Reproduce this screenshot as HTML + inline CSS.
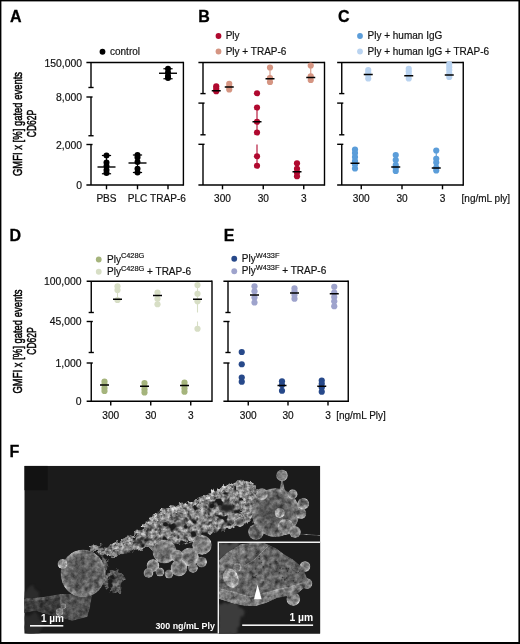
<!DOCTYPE html>
<html lang="en">
<head>
<meta charset="utf-8">
<title>Figure</title>
<style>
html,body{margin:0;padding:0;background:#fff;}
body{width:520px;height:644px;overflow:hidden;position:relative;}
svg{display:block;position:absolute;left:0;top:0;}
svg{will-change:transform;}
svg text{font-family:"Liberation Sans", sans-serif;fill:#111;stroke:#111;stroke-width:0.18px;}
</style>
</head>
<body>
<svg width="520" height="644" viewBox="0 0 520 644">
<rect x="0" y="0" width="520" height="644" fill="#fff"/>
<text x="10.1" y="21.9" font-size="16" font-weight="bold" style="fill:#000;stroke:#000;stroke-width:0.3">A</text>
<text x="198.3" y="21.9" font-size="16" font-weight="bold" style="fill:#000;stroke:#000;stroke-width:0.3">B</text>
<text x="337.9" y="21.9" font-size="16" font-weight="bold" style="fill:#000;stroke:#000;stroke-width:0.3">C</text>
<line x1="86.4" y1="62.5" x2="183.4" y2="62.5" stroke="#000" stroke-width="1.4" />
<line x1="183.4" y1="61.8" x2="183.4" y2="185.7" stroke="#000" stroke-width="1.4" />
<line x1="86.4" y1="185" x2="183.4" y2="185" stroke="#000" stroke-width="1.4" />
<line x1="91" y1="62.5" x2="91" y2="87.5" stroke="#000" stroke-width="1.4" />
<line x1="88.4" y1="87.5" x2="93.6" y2="87.5" stroke="#000" stroke-width="1.4" />
<line x1="91" y1="97" x2="91" y2="135.75" stroke="#000" stroke-width="1.4" />
<line x1="86.4" y1="97" x2="92.56" y2="97" stroke="#000" stroke-width="1.4" />
<line x1="88.4" y1="135.75" x2="93.6" y2="135.75" stroke="#000" stroke-width="1.4" />
<line x1="91" y1="144.5" x2="91" y2="185" stroke="#000" stroke-width="1.4" />
<line x1="86.4" y1="144.5" x2="92.56" y2="144.5" stroke="#000" stroke-width="1.4" />
<text x="82" y="66.7" text-anchor="end" font-size="10.4">150,000</text>
<text x="82" y="101.2" text-anchor="end" font-size="10.4">8,000</text>
<text x="82" y="148.7" text-anchor="end" font-size="10.4">2,000</text>
<text x="82" y="188.7" text-anchor="end" font-size="10.4">0</text>
<text transform="translate(21.5,124) rotate(-90)" text-anchor="middle" font-size="13" style="fill:#000;stroke:#000;stroke-width:0.5" textLength="104" lengthAdjust="spacingAndGlyphs">GMFI x [%] gated events</text>
<text transform="translate(36.0,123.5) rotate(-90)" text-anchor="middle" font-size="13" style="fill:#000;stroke:#000;stroke-width:0.5" textLength="27.5" lengthAdjust="spacingAndGlyphs">CD62P</text>
<line x1="106.5" y1="185" x2="106.5" y2="189.3" stroke="#000" stroke-width="1.4" />
<text x="106.5" y="202.1" text-anchor="middle" font-size="10.1">PBS</text>
<line x1="137.5" y1="185" x2="137.5" y2="189.3" stroke="#000" stroke-width="1.4" />
<text x="137.5" y="202.1" text-anchor="middle" font-size="10.1">PLC</text>
<line x1="168" y1="185" x2="168" y2="189.3" stroke="#000" stroke-width="1.4" />
<text x="168" y="202.1" text-anchor="middle" font-size="10.1">TRAP-6</text>
<circle cx="102.5" cy="51.75" r="2.9" fill="#000"/>
<text x="110" y="55.2" font-size="10">control</text>
<line x1="106.5" y1="155.5" x2="106.5" y2="173.75" stroke="#000" stroke-width="1.1" />
<line x1="101.9" y1="155.5" x2="111.1" y2="155.5" stroke="#000" stroke-width="1.2" />
<line x1="101.9" y1="173.75" x2="111.1" y2="173.75" stroke="#000" stroke-width="1.2" />
<circle cx="106.5" cy="155.5" r="3.0" fill="#000"/>
<circle cx="106.5" cy="162.5" r="3.0" fill="#000"/>
<circle cx="106.5" cy="166" r="3.0" fill="#000"/>
<circle cx="106.5" cy="170" r="3.0" fill="#000"/>
<circle cx="106.5" cy="173" r="3.0" fill="#000"/>
<line x1="97.5" y1="167" x2="115.5" y2="167" stroke="#000" stroke-width="1.4" />
<line x1="137.5" y1="155" x2="137.5" y2="172.5" stroke="#000" stroke-width="1.1" />
<line x1="132.9" y1="155" x2="142.1" y2="155" stroke="#000" stroke-width="1.2" />
<line x1="132.9" y1="172.5" x2="142.1" y2="172.5" stroke="#000" stroke-width="1.2" />
<circle cx="137.5" cy="155" r="3.0" fill="#000"/>
<circle cx="137.5" cy="157.5" r="3.0" fill="#000"/>
<circle cx="137.5" cy="162" r="3.0" fill="#000"/>
<circle cx="137.5" cy="168.75" r="3.0" fill="#000"/>
<circle cx="137.5" cy="172.5" r="3.0" fill="#000"/>
<line x1="128.5" y1="163" x2="146.5" y2="163" stroke="#000" stroke-width="1.4" />
<line x1="168" y1="68.75" x2="168" y2="78.75" stroke="#000" stroke-width="1.1" />
<line x1="163.4" y1="68.75" x2="172.6" y2="68.75" stroke="#000" stroke-width="1.2" />
<line x1="163.4" y1="78.75" x2="172.6" y2="78.75" stroke="#000" stroke-width="1.2" />
<circle cx="168" cy="68.75" r="3.0" fill="#000"/>
<circle cx="168" cy="72.5" r="3.0" fill="#000"/>
<circle cx="168" cy="76" r="3.0" fill="#000"/>
<circle cx="168" cy="78" r="3.0" fill="#000"/>
<line x1="159" y1="73.25" x2="177" y2="73.25" stroke="#000" stroke-width="1.4" />
<line x1="198.4" y1="62.5" x2="324.5" y2="62.5" stroke="#000" stroke-width="1.4" />
<line x1="324.5" y1="61.8" x2="324.5" y2="185.7" stroke="#000" stroke-width="1.4" />
<line x1="198.4" y1="185" x2="324.5" y2="185" stroke="#000" stroke-width="1.4" />
<line x1="203" y1="62.5" x2="203" y2="93.6" stroke="#000" stroke-width="1.4" />
<line x1="200.4" y1="93.6" x2="205.6" y2="93.6" stroke="#000" stroke-width="1.4" />
<line x1="203" y1="103.1" x2="203" y2="134.8" stroke="#000" stroke-width="1.4" />
<line x1="198.4" y1="103.1" x2="204.56" y2="103.1" stroke="#000" stroke-width="1.4" />
<line x1="200.4" y1="134.8" x2="205.6" y2="134.8" stroke="#000" stroke-width="1.4" />
<line x1="203" y1="144.3" x2="203" y2="185" stroke="#000" stroke-width="1.4" />
<line x1="198.4" y1="144.3" x2="204.56" y2="144.3" stroke="#000" stroke-width="1.4" />
<line x1="222.5" y1="185" x2="222.5" y2="189.3" stroke="#000" stroke-width="1.4" />
<text x="222.5" y="202.1" text-anchor="middle" font-size="10.1">300</text>
<line x1="263.25" y1="185" x2="263.25" y2="189.3" stroke="#000" stroke-width="1.4" />
<text x="263.25" y="202.1" text-anchor="middle" font-size="10.1">30</text>
<line x1="303.75" y1="185" x2="303.75" y2="189.3" stroke="#000" stroke-width="1.4" />
<text x="303.75" y="202.1" text-anchor="middle" font-size="10.1">3</text>
<circle cx="218.5" cy="36" r="2.9" fill="#b0092f"/>
<text x="225.7" y="38.9" font-size="10">Ply</text>
<circle cx="218.5" cy="51.5" r="2.9" fill="#d59582"/>
<text x="225.7" y="54.6" font-size="10">Ply + TRAP-6</text>
<circle cx="216.25" cy="86.25" r="3.1" fill="#b0092f"/>
<circle cx="216.25" cy="88.75" r="3.1" fill="#b0092f"/>
<circle cx="216.25" cy="91.25" r="3.1" fill="#b0092f"/>
<line x1="211.75" y1="90.75" x2="220.75" y2="90.75" stroke="#000" stroke-width="1.5" />
<circle cx="229.25" cy="83.75" r="3.1" fill="#d59582"/>
<circle cx="229.25" cy="86.75" r="3.1" fill="#d59582"/>
<circle cx="229.25" cy="89.5" r="3.1" fill="#d59582"/>
<line x1="224.75" y1="87" x2="233.75" y2="87" stroke="#000" stroke-width="1.5" />
<line x1="257" y1="107.5" x2="257" y2="132.5" stroke="#b0092f" stroke-width="1.1" />
<line x1="257" y1="144.5" x2="257" y2="165.75" stroke="#b0092f" stroke-width="1.1" />
<circle cx="257" cy="93.25" r="3.1" fill="#b0092f"/>
<circle cx="257" cy="107.5" r="3.1" fill="#b0092f"/>
<circle cx="257" cy="121.75" r="3.1" fill="#b0092f"/>
<circle cx="257" cy="132.5" r="3.1" fill="#b0092f"/>
<circle cx="257" cy="156.25" r="3.1" fill="#b0092f"/>
<circle cx="257" cy="165.75" r="3.1" fill="#b0092f"/>
<line x1="252.5" y1="121.75" x2="261.5" y2="121.75" stroke="#000" stroke-width="1.5" />
<line x1="270" y1="67.5" x2="270" y2="82" stroke="#d59582" stroke-width="1.1" />
<circle cx="270" cy="67.5" r="3.1" fill="#d59582"/>
<circle cx="270" cy="78" r="3.1" fill="#d59582"/>
<circle cx="270" cy="82" r="3.1" fill="#d59582"/>
<line x1="265.5" y1="78.75" x2="274.5" y2="78.75" stroke="#000" stroke-width="1.5" />
<circle cx="297" cy="163.25" r="3.1" fill="#b0092f"/>
<circle cx="297" cy="168.75" r="3.1" fill="#b0092f"/>
<circle cx="297" cy="172.5" r="3.1" fill="#b0092f"/>
<circle cx="297" cy="176.25" r="3.1" fill="#b0092f"/>
<line x1="292.5" y1="171.75" x2="301.5" y2="171.75" stroke="#000" stroke-width="1.5" />
<line x1="310.75" y1="65.5" x2="310.75" y2="80" stroke="#d59582" stroke-width="1.1" />
<circle cx="310.75" cy="65.5" r="3.1" fill="#d59582"/>
<circle cx="310.75" cy="76.25" r="3.1" fill="#d59582"/>
<circle cx="310.75" cy="80" r="3.1" fill="#d59582"/>
<line x1="306.25" y1="77.5" x2="315.25" y2="77.5" stroke="#000" stroke-width="1.5" />
<line x1="337.15" y1="62.5" x2="463.25" y2="62.5" stroke="#000" stroke-width="1.4" />
<line x1="463.25" y1="61.8" x2="463.25" y2="185.7" stroke="#000" stroke-width="1.4" />
<line x1="337.15" y1="185" x2="463.25" y2="185" stroke="#000" stroke-width="1.4" />
<line x1="341.75" y1="62.5" x2="341.75" y2="93.6" stroke="#000" stroke-width="1.4" />
<line x1="339.15" y1="93.6" x2="344.35" y2="93.6" stroke="#000" stroke-width="1.4" />
<line x1="341.75" y1="103.1" x2="341.75" y2="134.8" stroke="#000" stroke-width="1.4" />
<line x1="337.15" y1="103.1" x2="343.31" y2="103.1" stroke="#000" stroke-width="1.4" />
<line x1="339.15" y1="134.8" x2="344.35" y2="134.8" stroke="#000" stroke-width="1.4" />
<line x1="341.75" y1="144.3" x2="341.75" y2="185" stroke="#000" stroke-width="1.4" />
<line x1="337.15" y1="144.3" x2="343.31" y2="144.3" stroke="#000" stroke-width="1.4" />
<line x1="361.25" y1="185" x2="361.25" y2="189.3" stroke="#000" stroke-width="1.4" />
<text x="361.25" y="202.1" text-anchor="middle" font-size="10.1">300</text>
<line x1="402" y1="185" x2="402" y2="189.3" stroke="#000" stroke-width="1.4" />
<text x="402" y="202.1" text-anchor="middle" font-size="10.1">30</text>
<line x1="442.5" y1="185" x2="442.5" y2="189.3" stroke="#000" stroke-width="1.4" />
<text x="442.5" y="202.1" text-anchor="middle" font-size="10.1">3</text>
<text x="461.6" y="202.0" font-size="10">[ng/mL ply]</text>
<circle cx="360" cy="36" r="2.9" fill="#5b9dd9"/>
<text x="367.5" y="38.9" font-size="10">Ply + human IgG</text>
<circle cx="360" cy="51.5" r="2.9" fill="#b9d3f0"/>
<text x="367.5" y="54.6" font-size="10">Ply + human IgG + TRAP-6</text>
<circle cx="355" cy="149.5" r="3.1" fill="#5b9dd9"/>
<circle cx="355" cy="153" r="3.1" fill="#5b9dd9"/>
<circle cx="355" cy="157" r="3.1" fill="#5b9dd9"/>
<circle cx="355" cy="161" r="3.1" fill="#5b9dd9"/>
<circle cx="355" cy="164.5" r="3.1" fill="#5b9dd9"/>
<circle cx="355" cy="168.5" r="3.1" fill="#5b9dd9"/>
<line x1="350.5" y1="163.25" x2="359.5" y2="163.25" stroke="#000" stroke-width="1.5" />
<circle cx="368.25" cy="70" r="3.1" fill="#b9d3f0"/>
<circle cx="368.25" cy="72.5" r="3.1" fill="#b9d3f0"/>
<circle cx="368.25" cy="75" r="3.1" fill="#b9d3f0"/>
<circle cx="368.25" cy="78.5" r="3.1" fill="#b9d3f0"/>
<line x1="363.75" y1="74.5" x2="372.75" y2="74.5" stroke="#000" stroke-width="1.5" />
<circle cx="395.75" cy="155" r="3.1" fill="#5b9dd9"/>
<circle cx="395.75" cy="160" r="3.1" fill="#5b9dd9"/>
<circle cx="395.75" cy="165" r="3.1" fill="#5b9dd9"/>
<circle cx="395.75" cy="168" r="3.1" fill="#5b9dd9"/>
<circle cx="395.75" cy="171" r="3.1" fill="#5b9dd9"/>
<line x1="391.25" y1="167" x2="400.25" y2="167" stroke="#000" stroke-width="1.5" />
<circle cx="408.75" cy="68.75" r="3.1" fill="#b9d3f0"/>
<circle cx="408.75" cy="71.5" r="3.1" fill="#b9d3f0"/>
<circle cx="408.75" cy="74.5" r="3.1" fill="#b9d3f0"/>
<circle cx="408.75" cy="78.5" r="3.1" fill="#b9d3f0"/>
<line x1="404.25" y1="75.75" x2="413.25" y2="75.75" stroke="#000" stroke-width="1.5" />
<line x1="436.25" y1="150.5" x2="436.25" y2="170" stroke="#5b9dd9" stroke-width="1.1" />
<circle cx="436.25" cy="150.5" r="3.1" fill="#5b9dd9"/>
<circle cx="436.25" cy="158.75" r="3.1" fill="#5b9dd9"/>
<circle cx="436.25" cy="162.5" r="3.1" fill="#5b9dd9"/>
<circle cx="436.25" cy="167.5" r="3.1" fill="#5b9dd9"/>
<circle cx="436.25" cy="170.5" r="3.1" fill="#5b9dd9"/>
<line x1="431.75" y1="168" x2="440.75" y2="168" stroke="#000" stroke-width="1.5" />
<circle cx="449.25" cy="64" r="3.1" fill="#b9d3f0"/>
<circle cx="449.25" cy="67" r="3.1" fill="#b9d3f0"/>
<circle cx="449.25" cy="70" r="3.1" fill="#b9d3f0"/>
<circle cx="449.25" cy="73.5" r="3.1" fill="#b9d3f0"/>
<circle cx="449.25" cy="77" r="3.1" fill="#b9d3f0"/>
<line x1="444.75" y1="75" x2="453.75" y2="75" stroke="#000" stroke-width="1.5" />
<text x="9.6" y="240.7" font-size="16" font-weight="bold" style="fill:#000;stroke:#000;stroke-width:0.3">D</text>
<text x="223.8" y="240.7" font-size="16" font-weight="bold" style="fill:#000;stroke:#000;stroke-width:0.3">E</text>
<line x1="86.65" y1="281.25" x2="212" y2="281.25" stroke="#000" stroke-width="1.4" />
<line x1="212" y1="280.55" x2="212" y2="401.95" stroke="#000" stroke-width="1.4" />
<line x1="86.65" y1="401.25" x2="212" y2="401.25" stroke="#000" stroke-width="1.4" />
<line x1="91.25" y1="281.25" x2="91.25" y2="312.5" stroke="#000" stroke-width="1.4" />
<line x1="88.65" y1="312.5" x2="93.85" y2="312.5" stroke="#000" stroke-width="1.4" />
<line x1="91.25" y1="321.5" x2="91.25" y2="352.5" stroke="#000" stroke-width="1.4" />
<line x1="86.65" y1="321.5" x2="92.81" y2="321.5" stroke="#000" stroke-width="1.4" />
<line x1="88.65" y1="352.5" x2="93.85" y2="352.5" stroke="#000" stroke-width="1.4" />
<line x1="91.25" y1="363" x2="91.25" y2="401.25" stroke="#000" stroke-width="1.4" />
<line x1="86.65" y1="363" x2="92.81" y2="363" stroke="#000" stroke-width="1.4" />
<text x="81.5" y="284.95" text-anchor="end" font-size="10.4">100,000</text>
<text x="81.5" y="325.45" text-anchor="end" font-size="10.4">45,000</text>
<text x="81.5" y="367.2" text-anchor="end" font-size="10.4">1,000</text>
<text x="81.5" y="404.95" text-anchor="end" font-size="10.4">0</text>
<text transform="translate(21.5,341.5) rotate(-90)" text-anchor="middle" font-size="13" style="fill:#000;stroke:#000;stroke-width:0.5" textLength="104" lengthAdjust="spacingAndGlyphs">GMFI x [%] gated events</text>
<text transform="translate(36.0,341) rotate(-90)" text-anchor="middle" font-size="13" style="fill:#000;stroke:#000;stroke-width:0.5" textLength="27.5" lengthAdjust="spacingAndGlyphs">CD62P</text>
<line x1="110.75" y1="401.25" x2="110.75" y2="405.55" stroke="#000" stroke-width="1.4" />
<text x="110.75" y="419.15" text-anchor="middle" font-size="10.1">300</text>
<line x1="150.75" y1="401.25" x2="150.75" y2="405.55" stroke="#000" stroke-width="1.4" />
<text x="150.75" y="419.15" text-anchor="middle" font-size="10.1">30</text>
<line x1="190.75" y1="401.25" x2="190.75" y2="405.55" stroke="#000" stroke-width="1.4" />
<text x="190.75" y="419.15" text-anchor="middle" font-size="10.1">3</text>
<circle cx="98.75" cy="259.5" r="2.9" fill="#a5b47c"/>
<text x="107" y="262.6" font-size="10">Ply<tspan dy="-4.2" font-size="7.4">C428G</tspan></text>
<circle cx="98.75" cy="271.75" r="2.9" fill="#d7dec5"/>
<text x="107" y="275" font-size="10">Ply<tspan dy="-4.2" font-size="7.4">C428G</tspan><tspan dy="4.2" font-size="10"> + TRAP-6</tspan></text>
<circle cx="104.5" cy="381.5" r="3.1" fill="#a5b47c"/>
<circle cx="104.5" cy="384.5" r="3.1" fill="#a5b47c"/>
<circle cx="104.5" cy="388" r="3.1" fill="#a5b47c"/>
<circle cx="104.5" cy="391" r="3.1" fill="#a5b47c"/>
<line x1="100.0" y1="385" x2="109.0" y2="385" stroke="#000" stroke-width="1.5" />
<line x1="117.5" y1="286" x2="117.5" y2="300" stroke="#d7dec5" stroke-width="1.1" />
<circle cx="117.5" cy="286.25" r="3.1" fill="#d7dec5"/>
<circle cx="117.5" cy="290" r="3.1" fill="#d7dec5"/>
<circle cx="117.5" cy="300" r="3.1" fill="#d7dec5"/>
<line x1="113.0" y1="299.25" x2="122.0" y2="299.25" stroke="#000" stroke-width="1.5" />
<circle cx="144.5" cy="383" r="3.1" fill="#a5b47c"/>
<circle cx="144.5" cy="386.5" r="3.1" fill="#a5b47c"/>
<circle cx="144.5" cy="389.5" r="3.1" fill="#a5b47c"/>
<circle cx="144.5" cy="392.5" r="3.1" fill="#a5b47c"/>
<line x1="140.0" y1="386.25" x2="149.0" y2="386.25" stroke="#000" stroke-width="1.5" />
<line x1="157.5" y1="292.5" x2="157.5" y2="304" stroke="#d7dec5" stroke-width="1.1" />
<circle cx="157.5" cy="292.5" r="3.1" fill="#d7dec5"/>
<circle cx="157.5" cy="298.75" r="3.1" fill="#d7dec5"/>
<circle cx="157.5" cy="304.25" r="3.1" fill="#d7dec5"/>
<line x1="153.0" y1="295.5" x2="162.0" y2="295.5" stroke="#000" stroke-width="1.5" />
<circle cx="184.5" cy="382.5" r="3.1" fill="#a5b47c"/>
<circle cx="184.5" cy="385.5" r="3.1" fill="#a5b47c"/>
<circle cx="184.5" cy="388.5" r="3.1" fill="#a5b47c"/>
<circle cx="184.5" cy="391.75" r="3.1" fill="#a5b47c"/>
<line x1="180.0" y1="385.5" x2="189.0" y2="385.5" stroke="#000" stroke-width="1.5" />
<line x1="197.5" y1="285" x2="197.5" y2="312.5" stroke="#d7dec5" stroke-width="1.1" />
<line x1="197.5" y1="321.5" x2="197.5" y2="328.75" stroke="#d7dec5" stroke-width="1.1" />
<circle cx="197.5" cy="285" r="3.1" fill="#d7dec5"/>
<circle cx="197.5" cy="293.75" r="3.1" fill="#d7dec5"/>
<circle cx="197.5" cy="301.25" r="3.1" fill="#d7dec5"/>
<circle cx="197.5" cy="328.75" r="3.1" fill="#d7dec5"/>
<line x1="193.0" y1="299.25" x2="202.0" y2="299.25" stroke="#000" stroke-width="1.5" />
<line x1="223.4" y1="281.25" x2="348.25" y2="281.25" stroke="#000" stroke-width="1.4" />
<line x1="348.25" y1="280.55" x2="348.25" y2="401.95" stroke="#000" stroke-width="1.4" />
<line x1="223.4" y1="401.25" x2="348.25" y2="401.25" stroke="#000" stroke-width="1.4" />
<line x1="228" y1="281.25" x2="228" y2="312.5" stroke="#000" stroke-width="1.4" />
<line x1="225.4" y1="312.5" x2="230.6" y2="312.5" stroke="#000" stroke-width="1.4" />
<line x1="228" y1="321.5" x2="228" y2="352.5" stroke="#000" stroke-width="1.4" />
<line x1="223.4" y1="321.5" x2="229.56" y2="321.5" stroke="#000" stroke-width="1.4" />
<line x1="225.4" y1="352.5" x2="230.6" y2="352.5" stroke="#000" stroke-width="1.4" />
<line x1="228" y1="363" x2="228" y2="401.25" stroke="#000" stroke-width="1.4" />
<line x1="223.4" y1="363" x2="229.56" y2="363" stroke="#000" stroke-width="1.4" />
<line x1="248.25" y1="401.25" x2="248.25" y2="405.55" stroke="#000" stroke-width="1.4" />
<text x="248.25" y="419.15" text-anchor="middle" font-size="10.1">300</text>
<line x1="288" y1="401.25" x2="288" y2="405.55" stroke="#000" stroke-width="1.4" />
<text x="288" y="419.15" text-anchor="middle" font-size="10.1">30</text>
<line x1="328" y1="401.25" x2="328" y2="405.55" stroke="#000" stroke-width="1.4" />
<text x="328" y="419.15" text-anchor="middle" font-size="10.1">3</text>
<text x="336.2" y="419.15" font-size="10">[ng/mL Ply]</text>
<circle cx="234.25" cy="258.75" r="2.9" fill="#27498a"/>
<text x="241.75" y="261.9" font-size="10">Ply<tspan dy="-4.2" font-size="7.4">W433F</tspan></text>
<circle cx="234.25" cy="271.25" r="2.9" fill="#9ea3cc"/>
<text x="241.75" y="274.4" font-size="10">Ply<tspan dy="-4.2" font-size="7.4">W433F</tspan><tspan dy="4.2" font-size="10"> + TRAP-6</tspan></text>
<circle cx="241.75" cy="352" r="3.1" fill="#27498a"/>
<circle cx="241.75" cy="364.25" r="3.1" fill="#27498a"/>
<circle cx="241.75" cy="377.5" r="3.1" fill="#27498a"/>
<circle cx="241.75" cy="381.75" r="3.1" fill="#27498a"/>
<circle cx="254.5" cy="286.25" r="3.1" fill="#9ea3cc"/>
<circle cx="254.5" cy="291.25" r="3.1" fill="#9ea3cc"/>
<circle cx="254.5" cy="297.5" r="3.1" fill="#9ea3cc"/>
<circle cx="254.5" cy="302.5" r="3.1" fill="#9ea3cc"/>
<line x1="250.0" y1="295" x2="259.0" y2="295" stroke="#000" stroke-width="1.5" />
<circle cx="282" cy="381.25" r="3.1" fill="#27498a"/>
<circle cx="282" cy="385" r="3.1" fill="#27498a"/>
<circle cx="282" cy="390.75" r="3.1" fill="#27498a"/>
<line x1="277.5" y1="385.5" x2="286.5" y2="385.5" stroke="#000" stroke-width="1.5" />
<circle cx="294.5" cy="288.25" r="3.1" fill="#9ea3cc"/>
<circle cx="294.5" cy="291.25" r="3.1" fill="#9ea3cc"/>
<circle cx="294.5" cy="295" r="3.1" fill="#9ea3cc"/>
<circle cx="294.5" cy="298.75" r="3.1" fill="#9ea3cc"/>
<line x1="290.0" y1="293" x2="299.0" y2="293" stroke="#000" stroke-width="1.5" />
<circle cx="321.75" cy="380.5" r="3.1" fill="#27498a"/>
<circle cx="321.75" cy="383.75" r="3.1" fill="#27498a"/>
<circle cx="321.75" cy="387.5" r="3.1" fill="#27498a"/>
<circle cx="321.75" cy="391.75" r="3.1" fill="#27498a"/>
<line x1="317.25" y1="386.25" x2="326.25" y2="386.25" stroke="#000" stroke-width="1.5" />
<circle cx="334.25" cy="286.75" r="3.1" fill="#9ea3cc"/>
<circle cx="334.25" cy="292.5" r="3.1" fill="#9ea3cc"/>
<circle cx="334.25" cy="297" r="3.1" fill="#9ea3cc"/>
<circle cx="334.25" cy="301.25" r="3.1" fill="#9ea3cc"/>
<circle cx="334.25" cy="306.25" r="3.1" fill="#9ea3cc"/>
<line x1="329.75" y1="293.75" x2="338.75" y2="293.75" stroke="#000" stroke-width="1.5" />
<text x="9.6" y="456.9" font-size="16" font-weight="bold" style="fill:#000;stroke:#000;stroke-width:0.3">F</text>
<defs>
<clipPath id="semclip"><rect x="24.3" y="465.8" width="296.0" height="167.9"/></clipPath>
<clipPath id="insclip"><rect x="218.8" y="542.7" width="101.5" height="91.0"/></clipPath>
<radialGradient id="sph" cx="0.46" cy="0.48" r="0.56">
<stop offset="0" stop-color="#6c6c6c"/><stop offset="0.6" stop-color="#7a7a7a"/><stop offset="0.88" stop-color="#a2a2a2"/><stop offset="1" stop-color="#8a8a8a"/>
</radialGradient>
<radialGradient id="sphd" cx="0.5" cy="0.5" r="0.55">
<stop offset="0" stop-color="#565656"/><stop offset="0.65" stop-color="#626262"/><stop offset="0.9" stop-color="#868686"/><stop offset="1" stop-color="#6a6a6a"/>
</radialGradient>
<radialGradient id="sphb" cx="0.45" cy="0.45" r="0.56">
<stop offset="0" stop-color="#868686"/><stop offset="0.6" stop-color="#949494"/><stop offset="0.9" stop-color="#bdbdbd"/><stop offset="1" stop-color="#9a9a9a"/>
</radialGradient>
<filter id="rough" x="-10%" y="-10%" width="120%" height="120%" color-interpolation-filters="sRGB">
<feTurbulence type="fractalNoise" baseFrequency="0.16" numOctaves="3" seed="4" result="n"/>
<feDisplacementMap in="SourceGraphic" in2="n" scale="9" xChannelSelector="R" yChannelSelector="G" result="d"/>
<feTurbulence type="fractalNoise" baseFrequency="0.24" numOctaves="3" seed="9" result="n2"/>
<feColorMatrix in="n2" type="matrix" values="1.9 0 0 0 -0.45  1.9 0 0 0 -0.45  1.9 0 0 0 -0.45  0 0 0 0 1" result="g"/>
<feComposite in="d" in2="g" operator="arithmetic" k1="1.0" k2="0.5" k3="0" k4="0" result="t"/>
<feComposite in="t" in2="d" operator="in" result="u"/>
<feTurbulence type="fractalNoise" baseFrequency="0.13" numOctaves="2" seed="21" result="n3"/>
<feColorMatrix in="n3" type="matrix" values="0 0 0 0 1  0 0 0 0 1  0 0 0 0 1  7 0 0 0 -2.15" result="m"/>
<feComposite in="u" in2="m" operator="in" result="w"/>
<feGaussianBlur in="w" stdDeviation="0.7"/>
</filter>
<filter id="rough2" x="-10%" y="-20%" width="120%" height="140%" color-interpolation-filters="sRGB">
<feTurbulence type="fractalNoise" baseFrequency="0.2" numOctaves="3" seed="11" result="n"/>
<feDisplacementMap in="SourceGraphic" in2="n" scale="7" xChannelSelector="R" yChannelSelector="G" result="d"/>
<feTurbulence type="fractalNoise" baseFrequency="0.28" numOctaves="3" seed="5" result="n2"/>
<feColorMatrix in="n2" type="matrix" values="1.8 0 0 0 -0.4  1.8 0 0 0 -0.4  1.8 0 0 0 -0.4  0 0 0 0 1" result="g"/>
<feComposite in="d" in2="g" operator="arithmetic" k1="1.0" k2="0.5" k3="0" k4="0" result="t"/>
<feComposite in="t" in2="d" operator="in" result="u"/>
<feGaussianBlur in="u" stdDeviation="0.7"/>
</filter>
<filter id="soft" x="-10%" y="-10%" width="120%" height="120%" color-interpolation-filters="sRGB">
<feTurbulence type="fractalNoise" baseFrequency="0.2" numOctaves="3" seed="2" result="n2"/>
<feColorMatrix in="n2" type="matrix" values="1.5 0 0 0 -0.25  1.5 0 0 0 -0.25  1.5 0 0 0 -0.25  0 0 0 0 1" result="g"/>
<feComposite in="SourceGraphic" in2="g" operator="arithmetic" k1="0.9" k2="0.55" k3="0" k4="0" result="t"/>
<feComposite in="t" in2="SourceGraphic" operator="in" result="u"/>
<feGaussianBlur in="u" stdDeviation="0.7"/>
</filter>
<filter id="dim" x="-20%" y="-20%" width="140%" height="140%" color-interpolation-filters="sRGB">
<feTurbulence type="fractalNoise" baseFrequency="0.18" numOctaves="2" seed="7" result="n"/>
<feDisplacementMap in="SourceGraphic" in2="n" scale="8" xChannelSelector="R" yChannelSelector="G" result="d"/>
<feGaussianBlur in="d" stdDeviation="1.2"/>
</filter>
</defs>
<g clip-path="url(#semclip)">
<rect x="24.3" y="465.8" width="296.0" height="167.9" fill="#1b1b1b"/>
<rect x="24.3" y="465.8" width="23.3" height="24.4" fill="#121212"/>
<g filter="url(#dim)" opacity="0.95">
<path d="M24 590 L34 586 L40 596 L30 604 L24 604 Z" fill="#2e2e2e"/>
<path d="M24 616 L36 613 L42 622 L40 634 L24 634 Z" fill="#2c2c2c"/>
</g>
<g filter="url(#soft)">
<path d="M24 598.5 L43 597 L60.5 594 L66 596 L64 612 L58.6 617.5 L49 615 L35.5 611 L24 613 Z" fill="#3c3c3c"/>
<path d="M60 594 L70 594 L92 596 L90 608 L87.5 617 L72 621 L62 618 L60 606 Z" fill="#525252"/>
<path d="M24 598.5 L43 597 L60.5 594 L62 597 L44 600 L24 601.5 Z" fill="#565656"/>
</g>
<g filter="url(#rough)">
<path d="M98 551 L112 544 L120 541 L130 535 L141 527 L152 517 L161 510 L174 507 L192 502 L204 497 L214 491 L226 485 L238 481 L246 482 L254 487 L262 491 L262 520 L250 521 L240 526 L224 531 L210 535 L200 541 L182 545 L168 546 L156 548 L146 548 L136 550 L126 553 L112 557 L100 559 Z" fill="#878787"/>
<path d="M100 550 L105 549 L108 560 L107 574 L110 584 L105 588 L102 576 Z" fill="#5c5c5c"/>
<path d="M108 574 L116 569 L123 572 L124 581 L121 590 L115 595 L111 590 Z" fill="#585858"/>
<path d="M88 547 L100 545 L118 546 L118 550 L100 551 L90 551 Z" fill="#808080"/>
</g>
<g filter="url(#rough2)">
<path d="M143 528 L153 520 L162 512 L176 508 L192 504 L204 499 L215 493 L227 487 L239 483 L248 484 L256 489" fill="none" stroke="#9a9a9a" stroke-width="5.5" stroke-linejoin="round"/>
<path d="M236 484 L250 484 L260 490 L262 500 L256 512 L248 518 L240 514 L244 502 L238 494 Z" fill="#858585"/>
<path d="M100 554 L114 548 L128 541 L141 531" fill="none" stroke="#8c8c8c" stroke-width="4" stroke-linejoin="round"/>
</g>
<g filter="url(#dim)"><ellipse cx="226" cy="508" rx="7" ry="4.5" fill="#242424"/><ellipse cx="140" cy="541" rx="8" ry="2" fill="#2a2a2a" transform="rotate(-28 140 541)"/><ellipse cx="181" cy="523" rx="6" ry="2" fill="#4a4a4a" transform="rotate(-20 181 523)"/></g>
<g filter="url(#soft)">
<ellipse cx="83" cy="573.5" rx="22.5" ry="24" fill="url(#sphd)"/>
<ellipse cx="62.5" cy="564" rx="5" ry="5" fill="url(#sphb)"/>
<ellipse cx="63.4" cy="606.3" rx="3" ry="3" fill="url(#sph)"/>
<ellipse cx="59.6" cy="612" rx="4" ry="4" fill="url(#sph)"/>
</g>
<g filter="url(#soft)">
<ellipse cx="153" cy="565.5" rx="6.5" ry="6.5" fill="url(#sph)"/>
<ellipse cx="148.5" cy="573" rx="5" ry="5" fill="url(#sph)"/>
<ellipse cx="160" cy="572" rx="4.5" ry="4.5" fill="url(#sph)"/>
<ellipse cx="189.5" cy="557" rx="9.5" ry="9.5" fill="url(#sph)"/>
<ellipse cx="202" cy="545" rx="10" ry="10" fill="url(#sph)"/>
<ellipse cx="164.5" cy="551.5" rx="12" ry="12" fill="url(#sph)"/>
<ellipse cx="179" cy="568" rx="8.5" ry="8.5" fill="url(#sph)"/>
<ellipse cx="201.6" cy="562" rx="5.5" ry="5.5" fill="url(#sph)"/>
<ellipse cx="177" cy="556" rx="6.5" ry="6.5" fill="url(#sph)"/>
<ellipse cx="169" cy="574" rx="4.5" ry="4.5" fill="url(#sph)"/>
<ellipse cx="193" cy="568" rx="5" ry="5" fill="url(#sph)"/>
</g>
<g filter="url(#soft)">
<path d="M282 476 L285 490 L279 492 Z" fill="#777"/>
<ellipse cx="256" cy="532" rx="8" ry="8" fill="url(#sphd)"/>
<ellipse cx="275.5" cy="512.5" rx="24" ry="24.5" fill="url(#sphd)"/>
<ellipse cx="268" cy="512" rx="9" ry="7" fill="#505050" opacity="0.7"/>
<ellipse cx="282" cy="475.6" rx="6" ry="6" fill="url(#sph)"/>
<ellipse cx="303.3" cy="503.7" rx="6" ry="6" fill="url(#sph)"/>
<ellipse cx="301" cy="513.5" rx="5.5" ry="5.5" fill="url(#sph)"/>
<ellipse cx="279.8" cy="513" rx="5" ry="5" fill="url(#sphb)"/>
<ellipse cx="285.7" cy="527" rx="8" ry="8" fill="url(#sph)"/>
<ellipse cx="295" cy="532" rx="6" ry="6" fill="url(#sph)"/>
<ellipse cx="292.7" cy="494.3" rx="5" ry="5" fill="url(#sph)"/>
<ellipse cx="262" cy="494" rx="6" ry="6" fill="url(#sph)"/>
<ellipse cx="240" cy="522" rx="5" ry="5" fill="url(#sph)"/>
<path d="M300 534 L320 535.5" stroke="#777" stroke-width="1.2" fill="none"/>
</g>
<rect x="217.8" y="541.7" width="102.5" height="92.0" fill="#1c1c1c"/>
<g clip-path="url(#insclip)">
<g filter="url(#dim)"><path d="M218 604 L236 604 L246 612 L240 622 L236 634 L218 634 Z" fill="#3c3c3c"/><path d="M218 543 L240 543 L230 556 L218 560 Z" fill="#4a4a4a"/></g>
<g filter="url(#soft)">
<ellipse cx="305" cy="566.5" rx="5.5" ry="5.5" fill="url(#sph)"/>
<ellipse cx="307" cy="583.5" rx="5.5" ry="5.5" fill="url(#sph)"/>
<ellipse cx="293.3" cy="599" rx="7" ry="7" fill="url(#sph)"/>
<path d="M219 560 L228 552 L241 544 L252 543 L265 543 L276 548 L284 554 L294 560 L303 568 L308 580 L304 588 L298 593 L288 596 L277 598 L266 603 L256 606 L244 606 L235 604 L226 601 L219 599 Z" fill="#646464"/>
<path d="M219 560 L228 552 L241 544 L252 543 L250 556 L240 566 L232 566 L224 572 L219 575 Z" fill="#727272"/>
<path d="M256 606 L266 603 L277 598 L288 596 L298 593 L304 588 L300 584 L284 588 L270 592 L258 596 L246 596 L236 592 L224 590 L219 592 L219 599 L235 604 Z" fill="#7a7a7a"/>
<path d="M221 589 L236 593 L250 597 L262 594 L276 590 L290 587 L302 583" fill="none" stroke="#9a9a9a" stroke-width="1.2" opacity="0.8"/><path d="M244 566 L254 560 L262 552 L268 546" fill="none" stroke="#8e8e8e" stroke-width="1" opacity="0.8"/>
<g opacity="0.85"><circle cx="263.4" cy="567.0" r="0.68" fill="#2e2e2e"/><circle cx="281.0" cy="569.6" r="0.53" fill="#2e2e2e"/><circle cx="252.6" cy="576.6" r="0.63" fill="#2e2e2e"/><circle cx="263.2" cy="581.9" r="0.74" fill="#2e2e2e"/><circle cx="292.2" cy="569.9" r="0.58" fill="#2e2e2e"/><circle cx="282.5" cy="577.6" r="0.76" fill="#2e2e2e"/><circle cx="287.6" cy="571.2" r="0.53" fill="#2e2e2e"/><circle cx="288.4" cy="568.5" r="0.65" fill="#2e2e2e"/><circle cx="253.5" cy="577.6" r="0.74" fill="#2e2e2e"/><circle cx="286.5" cy="578.0" r="0.86" fill="#2e2e2e"/><circle cx="296.2" cy="572.7" r="0.72" fill="#2e2e2e"/><circle cx="256.7" cy="553.5" r="0.61" fill="#2e2e2e"/><circle cx="298.3" cy="572.7" r="0.65" fill="#2e2e2e"/><circle cx="276.3" cy="561.7" r="0.68" fill="#2e2e2e"/><circle cx="280.1" cy="568.3" r="0.95" fill="#2e2e2e"/><circle cx="284.7" cy="579.7" r="0.93" fill="#2e2e2e"/><circle cx="299.6" cy="571.2" r="0.58" fill="#2e2e2e"/><circle cx="293.3" cy="580.8" r="0.95" fill="#2e2e2e"/><circle cx="279.3" cy="572.6" r="0.61" fill="#2e2e2e"/><circle cx="291.9" cy="567.9" r="0.64" fill="#2e2e2e"/><circle cx="255.0" cy="577.2" r="0.99" fill="#2e2e2e"/><circle cx="256.2" cy="575.4" r="0.71" fill="#2e2e2e"/><circle cx="259.2" cy="558.7" r="0.88" fill="#2e2e2e"/><circle cx="293.9" cy="570.6" r="0.52" fill="#2e2e2e"/><circle cx="286.5" cy="568.8" r="0.99" fill="#2e2e2e"/><circle cx="276.3" cy="582.0" r="0.65" fill="#2e2e2e"/><circle cx="255.7" cy="568.8" r="0.52" fill="#2e2e2e"/><circle cx="261.5" cy="562.5" r="0.81" fill="#2e2e2e"/><circle cx="259.5" cy="556.6" r="0.66" fill="#2e2e2e"/><circle cx="270.1" cy="564.2" r="0.76" fill="#2e2e2e"/><circle cx="282.9" cy="568.7" r="0.78" fill="#2e2e2e"/><circle cx="281.8" cy="580.0" r="0.75" fill="#2e2e2e"/></g>
<ellipse cx="237.3" cy="567.6" rx="4" ry="4" fill="url(#sph)"/>
<ellipse cx="231" cy="578.2" rx="7.5" ry="10" fill="url(#sphb)" transform="rotate(-25 231 578.2)"/>
</g>
</g>
<path d="M218.3 633.7 L218.3 542.2 L320.3 542.2" fill="none" stroke="#f2f2f2" stroke-width="1.4"/>
<path d="M257.6 584.6 L254.0 599.2 L261.6 599.2 Z" fill="#fff"/>
<rect x="242.2" y="624.4" width="70.9" height="1.6" fill="#f4f4f4"/>
<text x="313.2" y="620.8" text-anchor="end" font-size="10.3" font-weight="bold" style="fill:#fff;stroke:none">1 µm</text>
<rect x="30" y="625" width="33.3" height="1.6" fill="#f4f4f4"/>
<text x="63.9" y="621.9" text-anchor="end" font-size="10" font-weight="bold" style="fill:#fff;stroke:none">1 µm</text>
<text x="155.4" y="628.7" font-size="8.9" font-weight="bold" style="fill:#fff;stroke:none">300 ng/mL Ply</text>
</g>
<!-- outer frame -->
<rect x="0" y="0" width="520" height="1.4" fill="#000"/>
<rect x="0" y="0" width="1.4" height="644" fill="#000"/>
<rect x="518.4" y="0" width="1.6" height="644" fill="#000"/>
<rect x="0" y="642" width="520" height="2" fill="#000"/>
</svg>
</body>
</html>
